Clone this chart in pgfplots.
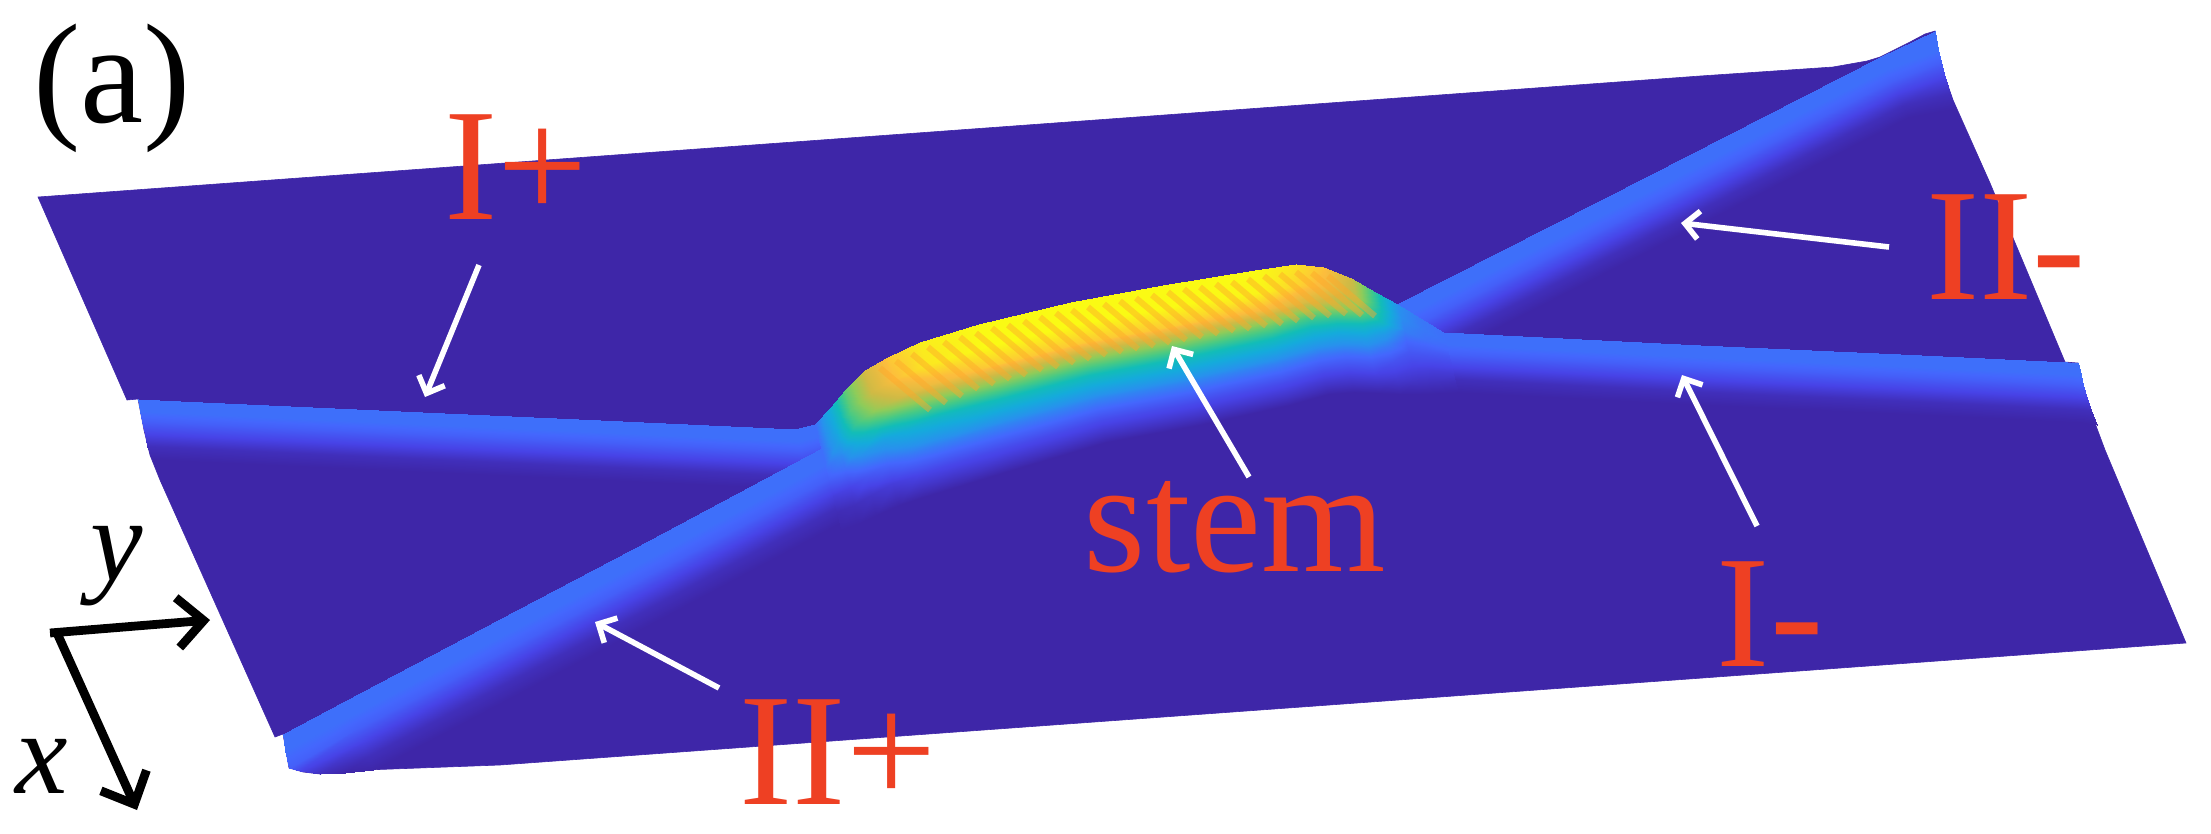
\documentclass[border=0pt]{standalone}
\usepackage{fontspec}
\setmainfont{Liberation Serif}
\usepackage{pgfplots}
\pgfplotsset{compat=1.18}
\usetikzlibrary{arrows.meta}
\definecolor{base}{rgb}{.2422,.1504,.6603}
\definecolor{labelred}{HTML}{EE4023}
\definecolor{stripe}{rgb}{1,.66,.16}
\pgfplotsset{
  colormap={parula}{
    rgb=(.2422,.1504,.6603) rgb=(.2790,.2620,.9050) rgb=(.2650,.4030,.9930)
    rgb=(.1540,.5700,.9300) rgb=(.0800,.6700,.8600) rgb=(.0700,.7400,.7200)
    rgb=(.2800,.7900,.5200) rgb=(.5600,.7990,.3500) rgb=(.8100,.7300,.2700)
    rgb=(.9900,.7400,.2400) rgb=(.9800,.9800,.0800)},
  band/.style={surf, shader=interp, z buffer=none},
  note/.style={white, line width=2.8pt, -{Straight Barb[length=7pt,width=14pt]}},
  axisarrow/.style={black, line width=4.4pt, -{Straight Barb[length=13pt,width=25pt]}},
}
\newcommand{\sz}[1]{\fontsize{#1}{#1}\selectfont}
\begin{document}
\begin{tikzpicture}
\useasboundingbox (0,0) rectangle (1105.5pt,417pt);
\begin{axis}[
    at={(0,0)}, anchor=south west,
    view={0}{90},
    hide axis,
    scale only axis,
    width=1105.5pt, height=417pt,
    xmin=0, xmax=2211, ymin=0, ymax=834, zmin=0, zmax=1,
    y dir=reverse,
    clip=false,
    point meta min=0, point meta max=1,
]
% flat part of the surface
\addplot3[fill=base, draw=base, line width=.3pt] coordinates {
(38,197,0) (1700,76,0) (1833,67,0) (1867,61,0) (1880,57,0) (1910,42,0) (1925,34,0) (1935,31,0)
(1940,60,0) (1945,77,0) (1953,100,0) (1990,183,0) (2065,362,0) (2078,363,0) (2083,385,0) (2089,407,0)
(2105,450,0) (2186,643,0) (500,765,0) (338,771,0) (320,774,0) (303,772,0)
(289,768,0) (283,734,0) (275,737,0) (160,480,0) (150,455,0) (144,430,0)
(138,399,0) (127,400,0)} --cycle;

% II- ridge
\addplot3[band] table {
x y z
1397 304 .22
1403 316 .22
1408 328 .18
1414 340 .10
1420 352 .03
1425 364 0

1450 277 .22
1456 289 .22
1461 301 .18
1467 313 .10
1473 325 .03
1478 337 0

1650 175 .22
1656 187 .22
1661 199 .18
1667 211 .10
1673 223 .03
1678 235 0

1880 57 .22
1886 69 .22
1891 81 .18
1897 93 .10
1903 105 .03
1908 117 0

1935 31 .22
1938 50 .22
1941 62 .18
1945 77 .10
1950 93 .03
1955 108 0
};

% I- ridge
\addplot3[band] table {
x y z
1443 332 .22
1446 344 .22
1449 354 .18
1452 367 .10
1455 379 .03
1458 392 0

1700 345 .22
1703 357 .22
1706 367 .18
1709 380 .10
1712 392 .03
1715 405 0

1900 354 .22
1903 366 .22
1906 376 .18
1909 389 .10
1912 401 .03
1915 414 0

2067 362 .22
2070 374 .22
2073 384 .18
2076 397 .10
2079 409 .03
2082 422 0

2078 363 .22
2081 375 .22
2083 385 .18
2087 398 .10
2091 410 .03
2097 425 0
};

% I+ ridge
\addplot3[band] table {
x y z
138 399 .22
140 411 .22
142 421 .18
145 434 .10
147 446 .03
152 459 0

180 401 .22
183 413 .22
186 423 .18
189 436 .10
192 448 .03
195 461 0

400 411 .22
403 423 .22
406 433 .18
409 446 .10
412 458 .03
415 471 0

600 420 .22
603 432 .22
606 442 .18
609 455 .10
612 467 .03
615 480 0

795 429 .22
798 441 .22
801 451 .18
804 464 .10
807 476 .03
810 489 0

815 424 .22
818 436 .22
821 446 .18
824 459 .10
827 471 .03
830 484 0
};

% II+ ridge
\addplot3[band] table {
x y z
283 734 .22
285 750 .22
289 768 .18
300 771 .10
320 774 .03
345 773 0

345 701 .22
351 715 .22
356 729 .18
362 742 .10
368 756 .03
373 770 0

500 619 .22
506 633 .22
511 647 .18
517 660 .10
523 674 .03
528 688 0

650 540 .22
656 554 .22
661 568 .18
667 581 .10
673 595 .03
678 609 0

794 463 .22
800 477 .22
805 491 .18
811 504 .10
817 518 .03
822 532 0

835 441 .22
841 455 .22
846 469 .18
852 482 .10
858 496 .03
863 510 0
};

% stem
\addplot3[band] table {
x y z
815 424 .22
819 441 .22
823 454 .22
826 467 .22
829 479 .18
833 496 .08
837 512 .02
841 529 0

830 408 .42
835 426 .40
838 441 .36
842 455 .28
845 468 .22
850 487 .10
854 505 .03
859 523 0

845 390 .64
850 410 .62
854 426 .56
858 441 .42
861 455 .30
867 476 .15
871 495 .05
876 515 0

865 370 .82
871 392 .80
875 409 .72
879 425 .54
883 440 .36
888 463 .20
893 483 .08
899 505 0

888 357 .92
894 379 .90
898 398 .80
902 414 .60
906 430 .42
912 454 .24
918 475 .10
923 497 0

920 342 .98
926 365 .97
931 384 .87
935 401 .66
939 417 .46
945 442 .26
951 464 .11
956 487 0

979 324 1
985 347 1
990 366 .92
994 383 .70
998 399 .50
1004 424 .27
1010 446 .12
1015 469 0

1071 302 1
1077 324 1
1081 343 .92
1085 359 .70
1089 375 .50
1095 399 .27
1101 420 .12
1106 442 0

1163 285 1
1169 307 1
1173 326 .92
1177 342 .70
1181 358 .50
1187 382 .27
1193 403 .12
1198 425 0

1255 270 1
1261 292 .99
1265 309 .89
1269 325 .66
1273 340 .48
1278 363 .26
1283 383 .12
1289 405 0

1296 264 .96
1301 285 .93
1306 302 .82
1309 317 .60
1313 332 .44
1318 354 .24
1323 373 .11
1328 394 0

1323 267 .91
1328 287 .87
1332 303 .77
1336 318 .56
1339 332 .40
1345 353 .22
1349 372 .10
1354 392 0

1351 278 .80
1356 296 .76
1359 311 .66
1363 325 .48
1366 338 .35
1371 357 .20
1375 375 .09
1380 393 0

1375 292 .55
1379 308 .52
1382 322 .47
1385 334 .33
1388 345 .25
1392 362 .14
1396 378 .07
1400 394 0

1397 304 .30
1401 318 .29
1404 330 .26
1406 341 .20
1409 351 .16
1413 366 .10
1416 380 .05
1420 394 0

1420 318 .24
1423 330 .24
1426 340 .22
1428 349 .18
1430 357 .14
1433 370 .08
1436 381 .04
1439 393 0

1443 332 .22
1446 342 .22
1447 349 .20
1449 357 .15
1451 363 .12
1453 373 .07
1455 382 .03
1458 392 0
};

% mesh stripes across the stem
\addplot3[color=stripe, opacity=.45, line width=3pt, empty line=jump] coordinates {
(880,368,1) (930,410,1)

(896,361,1) (946,403,1)

(912,354,1) (962,396,1)

(928,347,1) (978,389,1)

(944,342,1) (994,384,1)

(960,337,1) (1010,379,1)

(976,333,1) (1026,375,1)

(992,328,1) (1042,370,1)

(1008,325,1) (1058,367,1)

(1024,321,1) (1074,363,1)

(1040,317,1) (1090,359,1)

(1056,313,1) (1106,355,1)

(1072,310,1) (1122,352,1)

(1088,307,1) (1138,349,1)

(1104,304,1) (1154,346,1)

(1120,301,1) (1170,343,1)

(1136,298,1) (1186,340,1)

(1152,295,1) (1202,337,1)

(1168,292,1) (1218,334,1)

(1184,289,1) (1234,331,1)

(1200,287,1) (1250,329,1)

(1216,284,1) (1266,326,1)

(1232,282,1) (1282,324,1)

(1248,279,1) (1298,321,1)

(1264,276,1) (1314,318,1)

(1280,274,1) (1330,316,1)

(1296,272,1) (1346,314,1)

(1312,273,1) (1362,315,1)

(1328,276,1) (1375,316,1)
};

% white arrows
\addplot3[note] coordinates {(479,265,1) (425,397,1)};
\addplot3[note] coordinates {(1889,247,1) (1681,223,1)};
\addplot3[note] coordinates {(1757,526,1) (1682,375,1)};
\addplot3[note] coordinates {(1249,477,1) (1172,346,1)};
\addplot3[note] coordinates {(719,688,1) (595,622,1)};

% y and x directions
\addplot3[axisarrow] coordinates {(50,633,1) (210,620,1)};
\addplot3[axisarrow] coordinates {(57,633,1) (137,810,1)};

\node[anchor=base, inner sep=0pt] at (axis cs:112,122,1) {\sz{71}(a)};
\node[anchor=base, inner sep=0pt, text=labelred] at (axis cs:516,219,1) {\sz{80}I+};
\node[anchor=base, inner sep=0pt, text=labelred] at (axis cs:2006,299,1) {\sz{80}II-};
\node[anchor=base, inner sep=0pt, text=labelred] at (axis cs:1770,666,1) {\sz{80}I-};
\node[anchor=base, inner sep=0pt, text=labelred] at (axis cs:838,804,1) {\sz{80}II+};
\node[anchor=base, inner sep=0pt, text=labelred] at (axis cs:1235,571,1) {\sz{80}stem};
\node[anchor=base, inner sep=0pt] at (axis cs:117,580,1) {\sz{59}\textit{y}};
\node[anchor=base, inner sep=0pt] at (axis cs:42,793,1) {\sz{59}\textit{x}};
\end{axis}
\end{tikzpicture}
\end{document}
